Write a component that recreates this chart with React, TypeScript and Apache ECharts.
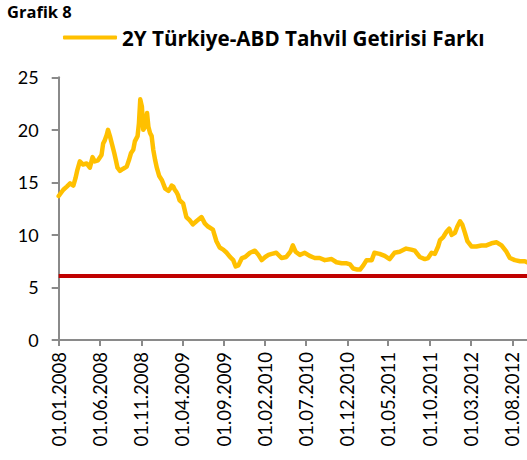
import React, { useEffect, useRef } from "react";
import * as echarts from "echarts";

const titleText = "Grafik 8";
const seriesName = "2Y Türkiye-ABD Tahvil Getirisi Farkı";

const dates: string[] = [
  "2008-01-01", "2008-01-18", "2008-01-31", "2008-02-12", "2008-02-24", "2008-03-03", "2008-03-10", "2008-03-19",
  "2008-03-31", "2008-04-13", "2008-04-25", "2008-05-05", "2008-05-13", "2008-05-25", "2008-06-07", "2008-06-13",
  "2008-06-19", "2008-06-26", "2008-07-01", "2008-07-08", "2008-07-16", "2008-07-24", "2008-07-30", "2008-08-05",
  "2008-08-14", "2008-08-26", "2008-09-08", "2008-09-16", "2008-09-24", "2008-10-02", "2008-10-08", "2008-10-18",
  "2008-10-23", "2008-10-28", "2008-11-03", "2008-11-08", "2008-11-15", "2008-11-22", "2008-11-27", "2008-12-03",
  "2008-12-09", "2008-12-15", "2008-12-22", "2008-12-28",
  "2009-01-06", "2009-01-16", "2009-01-28", "2009-02-09", "2009-02-15", "2009-02-21", "2009-02-27", "2009-03-04",
  "2009-03-10", "2009-03-16", "2009-03-22", "2009-04-04", "2009-04-16", "2009-04-28", "2009-05-10", "2009-05-23",
  "2009-06-11", "2009-06-23", "2009-07-05", "2009-07-23", "2009-08-05", "2009-08-17", "2009-08-30", "2009-09-12",
  "2009-09-24", "2009-10-06", "2009-10-15", "2009-10-25", "2009-11-07", "2009-11-19", "2009-12-07", "2009-12-25",
  "2010-01-07", "2010-01-19", "2010-02-01", "2010-02-13", "2010-02-25", "2010-03-14", "2010-04-02", "2010-04-20",
  "2010-05-05", "2010-05-14", "2010-05-24", "2010-06-09", "2010-06-27", "2010-07-15", "2010-08-03", "2010-08-21",
  "2010-09-09", "2010-10-04", "2010-10-22", "2010-11-10", "2010-11-29", "2010-12-11", "2010-12-23",
  "2011-01-07", "2011-01-17", "2011-01-29", "2011-02-10", "2011-03-01", "2011-03-11", "2011-03-30", "2011-04-18",
  "2011-05-06", "2011-05-24", "2011-06-12", "2011-07-06", "2011-07-25", "2011-08-07", "2011-08-25", "2011-09-13",
  "2011-09-25", "2011-10-08", "2011-10-20", "2011-11-01", "2011-11-08", "2011-11-20", "2011-12-02", "2011-12-12",
  "2011-12-21",
  "2012-01-02", "2012-01-11", "2012-01-21", "2012-01-29", "2012-02-08", "2012-02-17", "2012-03-03", "2012-03-21",
  "2012-04-09", "2012-04-27", "2012-05-16", "2012-06-04", "2012-06-22", "2012-07-10", "2012-07-23", "2012-08-10",
  "2012-08-29", "2012-09-16", "2012-09-24",
];

const spreadValues: number[] = [
  13.7, 14.3, 14.6, 14.9, 14.7, 15.4, 16.2, 17.0,
  16.7, 16.8, 16.4, 17.4, 17.0, 17.1, 17.6, 18.7,
  19.0, 19.5, 20.0, 19.4, 18.6, 17.8, 17.1, 16.4,
  16.1, 16.3, 16.5, 17.1, 17.8, 18.1, 18.9, 19.4,
  20.6, 22.9, 22.2, 20.0, 20.3, 21.6, 20.3, 19.7,
  19.4, 18.1, 17.1, 16.4,
  15.6, 15.2, 14.4, 14.2, 14.4, 14.7, 14.6, 14.3,
  14.1, 13.8, 13.3, 13.0, 11.7, 11.4, 11.0, 11.3,
  11.7, 11.1, 10.8, 10.5, 9.4, 8.8, 8.6, 8.3,
  7.9, 7.6, 7.0, 7.1, 7.8, 7.9, 8.3, 8.5,
  8.1, 7.6, 7.9, 8.1, 8.2, 8.3, 7.8, 7.9,
  8.4, 9.0, 8.4, 8.1, 8.3, 8.0, 7.8, 7.8,
  7.6, 7.7, 7.4, 7.3, 7.3, 7.2, 6.8,
  6.7, 6.7, 7.1, 7.6, 7.6, 8.3, 8.2, 8.0,
  7.7, 8.3, 8.4, 8.7, 8.6, 8.5, 7.9, 7.7,
  7.8, 8.3, 8.2, 8.9, 9.5, 9.8, 10.3, 10.6,
  10.0,
  10.2, 10.8, 11.3, 11.0, 10.2, 9.4, 8.9, 8.9,
  9.0, 9.0, 9.2, 9.3, 9.0, 8.4, 7.8, 7.6,
  7.5, 7.5, 7.4,
];

const thresholdValue = 6.15;

const tickDates: string[] = [
  "2008-01-01", "2008-06-01", "2008-11-01", "2009-04-01", "2009-09-01", "2010-02-01",
  "2010-07-01", "2010-12-01", "2011-05-01", "2011-10-01", "2012-03-01", "2012-08-01",
];

const axisStart = "2008-01-01";
const axisEnd = "2012-09-24";

const yTicks = { min: 0, max: 25, interval: 5 };

const DAY = 86400000;
const toTs = (s: string) => {
  const [y, m, d] = s.split("-").map(Number);
  return Date.UTC(y, m - 1, d);
};
const pad = (n: number) => (n < 10 ? "0" + n : "" + n);
const fmt = (v: number) => {
  const d = new Date(Math.round(v / DAY) * DAY);
  return pad(d.getUTCDate()) + "." + pad(d.getUTCMonth() + 1) + "." + d.getUTCFullYear();
};

const FONT = "Lato, 'Open Sans', sans-serif";
const HEAD_FONT = "'Open Sans', Lato, sans-serif";
const AXIS_GRAY = "#8a8a8a";

export default function App() {
  const ref = useRef<HTMLDivElement>(null);
  useEffect(() => {
    if (!ref.current) return;
    const chart = echarts.init(ref.current, undefined, { renderer: "svg" });
    const tickTs = tickDates.map(toTs);
    chart.setOption({
      animation: false,
      backgroundColor: "#ffffff",
      textStyle: { fontFamily: FONT },
      title: {
        text: titleText,
        left: 7,
        top: 3,
        padding: 0,
        textStyle: { fontFamily: HEAD_FONT, fontSize: 16.5, fontWeight: "bold", color: "#000" },
      },
      legend: {
        left: 63,
        top: 27,
        padding: 0,
        itemWidth: 54,
        itemHeight: 4,
        data: [{ name: seriesName, icon: "roundRect" }],
        textStyle: { fontFamily: HEAD_FONT, fontSize: 20.6, fontWeight: "bold", color: "#000" },
      },
      grid: {
        left: 58.7,
        right: 0,
        top: 77.3,
        bottom: 120,
        containLabel: false,
        outerBoundsMode: "none",
      },
      xAxis: {
        type: "value",
        min: toTs(axisStart),
        max: toTs(axisEnd),
        axisLine: { show: true, onZero: false, lineStyle: { color: AXIS_GRAY, width: 2 } },
        axisTick: {
          show: true,
          length: 6,
          customValues: tickTs,
          lineStyle: { color: AXIS_GRAY, width: 2 },
        },
        axisLabel: {
          rotate: 90,
          margin: 12,
          customValues: tickTs,
          formatter: (v: number) => fmt(v),
          fontFamily: FONT,
          fontSize: 18.5,
          color: "#000",
        },
        splitLine: { show: false },
      },
      yAxis: {
        type: "value",
        min: yTicks.min,
        max: yTicks.max,
        interval: yTicks.interval,
        axisLine: { show: true, lineStyle: { color: AXIS_GRAY, width: 2 } },
        axisTick: { show: true, length: 7, lineStyle: { color: AXIS_GRAY, width: 2 } },
        axisLabel: { margin: 20, fontFamily: FONT, fontSize: 18, color: "#000" },
        splitLine: { show: false },
      },
      series: [
        {
          name: seriesName,
          type: "line",
          showSymbol: false,
          symbol: "none",
          data: dates.map((d, i) => [toTs(d), spreadValues[i]]),
          itemStyle: { color: "#FFC000" },
          lineStyle: { color: "#FFC000", width: 4.5, cap: "round", join: "round" },
          z: 2,
        },
        {
          name: "threshold",
          type: "line",
          data: [],
          markLine: {
            silent: true,
            symbol: ["none", "none"],
            label: { show: false },
            lineStyle: { color: "#C00000", width: 4, type: "solid" },
            data: [{ yAxis: thresholdValue }],
          },
          z: 3,
        },
      ],
    });
    return () => chart.dispose();
  }, []);
  return (
    <div
      ref={ref}
      style={{ position: "absolute", left: 0, top: 0, width: 527, height: 460 }}
    />
  );
}
